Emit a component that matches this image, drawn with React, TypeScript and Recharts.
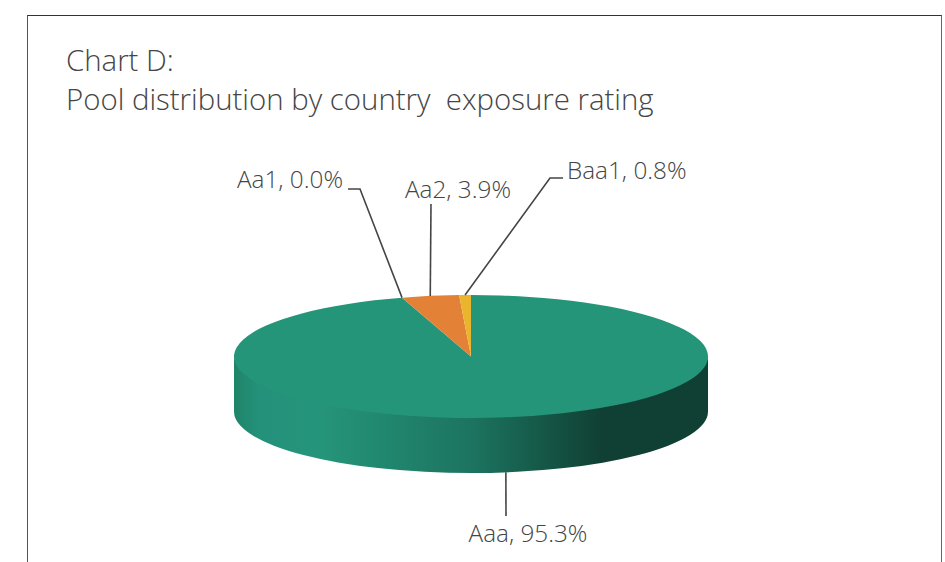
import React from "react";
import { PieChart, Pie, Cell } from "recharts";

const categories = ["Aaa", "Aa1", "Aa2", "Baa1"];
const shares = [95.3, 0.0, 3.9, 0.8];
const sliceColors = ["#25957a", "#a5a5a5", "#e38137", "#eab52c"];
const titleLines = ["Chart D:", "Pool distribution by country  exposure rating"];
const rows = categories.map((name, i) => ({ name, value: shares[i] }));

const FONT = "'Open Sans', sans-serif";
const INK = "#454545";
const SQUASH = 61.5 / 237;
const DEPTH = 55;

// elbow and text placement of each callout (layout only)
const calloutLayout: Record<string, { pts: number[][]; tx: number; ty: number; anchor: string }> = {
  Aaa: { pts: [[506, 516]], tx: 528, ty: 542, anchor: "middle" },
  Aa1: { pts: [[360, 189], [348, 189]], tx: 343, ty: 188, anchor: "end" },
  Aa2: { pts: [[431, 204]], tx: 458, ty: 198, anchor: "middle" },
  Baa1: { pts: [[550, 178], [563, 178]], tx: 567, ty: 179, anchor: "start" },
};

const RAD = Math.PI / 180;
const px = (cx: number, r: number, a: number) => cx + r * Math.cos(a * RAD);
const py = (cy: number, r: number, a: number) => cy - r * SQUASH * Math.sin(a * RAD);

function Slice3D(props: any) {
  const { cx, cy, outerRadius: r, startAngle: s, endAngle: e, fill } = props;
  const ry = r * SQUASH;
  const large = Math.abs(s - e) > 180 ? 1 : 0;
  const top = `M${cx},${cy}L${px(cx, r, s)},${py(cy, r, s)}A${r},${ry} 0 ${large} 1 ${px(cx, r, e)},${py(cy, r, e)}Z`;
  const a2 = Math.min(s, 0);
  const a1 = Math.max(e, -180);
  let wall = null;
  if (a2 > a1) {
    const d = `M${px(cx, r, a2)},${py(cy, r, a2) - 2}A${r},${ry} 0 0 1 ${px(cx, r, a1)},${py(cy, r, a1) - 2}L${px(cx, r, a1)},${py(cy, r, a1) + DEPTH}A${r},${ry} 0 0 0 ${px(cx, r, a2)},${py(cy, r, a2) + DEPTH}Z`;
    wall = <path d={d} fill="url(#wallShade)" />;
  }
  return (
    <g>
      {wall}
      <path d={top} fill={fill} />
    </g>
  );
}

function Callout(props: any) {
  const { cx, cy, outerRadius: r, midAngle, name, value } = props;
  const layout = calloutLayout[name];
  if (!layout) return null;
  const sx = px(cx, r, midAngle);
  const lower = Math.sin(midAngle * RAD) < 0;
  const sy = py(cy, r, midAngle) + (lower ? DEPTH : 0);
  const d = `M${sx},${sy}` + layout.pts.map((p) => `L${p[0]},${p[1]}`).join("");
  return (
    <g>
      <path d={d} fill="none" stroke={INK} strokeWidth={1.6} />
      <text x={layout.tx} y={layout.ty} textAnchor={layout.anchor as any} fontFamily={FONT} fontWeight={300} fontSize={24.3} fill={INK}>
        {`${name}, ${value.toFixed(1)}%`}
      </text>
    </g>
  );
}

export default function App() {
  return (
    <div style={{ position: "absolute", left: 0, top: 0, width: 945, height: 562, overflow: "hidden", background: "#fff" }}>
      <div style={{ position: "absolute", left: 27, top: 15, width: 915, height: 560, boxSizing: "border-box", borderLeft: "1.5px solid #555", borderTop: "1.5px solid #333", borderRight: "1.5px solid #666" }} />
      {titleLines.map((t, i) => (
        <div key={t} style={{ position: "absolute", left: 66, top: 41 + i * 39, fontFamily: FONT, fontWeight: 300, fontSize: 29.4, lineHeight: "39px", color: INK, whiteSpace: "pre" }}>
          {t}
        </div>
      ))}
      <div style={{ position: "absolute", left: 0, top: 0 }}>
        <PieChart width={945} height={562} margin={{ top: 0, right: 0, bottom: 0, left: 0 }}>
          <defs>
            <linearGradient id="wallShade" x1="0" y1="0" x2="1" y2="0">
              <stop offset="0" stopColor="#1f8468" />
              <stop offset="0.05" stopColor="#24917a" />
              <stop offset="0.18" stopColor="#25957a" />
              <stop offset="0.5" stopColor="#1c7460" />
              <stop offset="0.78" stopColor="#103f33" />
              <stop offset="1" stopColor="#103f33" />
            </linearGradient>
          </defs>
          <Pie
            data={rows}
            dataKey="value"
            nameKey="name"
            cx={471}
            cy={356.5}
            outerRadius={237}
            startAngle={90}
            endAngle={-270}
            stroke="none"
            isAnimationActive={false}
            shape={Slice3D}
            label={Callout}
            labelLine={false}
          >
            {rows.map((row, i) => (
              <Cell key={row.name} fill={sliceColors[i]} />
            ))}
          </Pie>
        </PieChart>
      </div>
    </div>
  );
}
